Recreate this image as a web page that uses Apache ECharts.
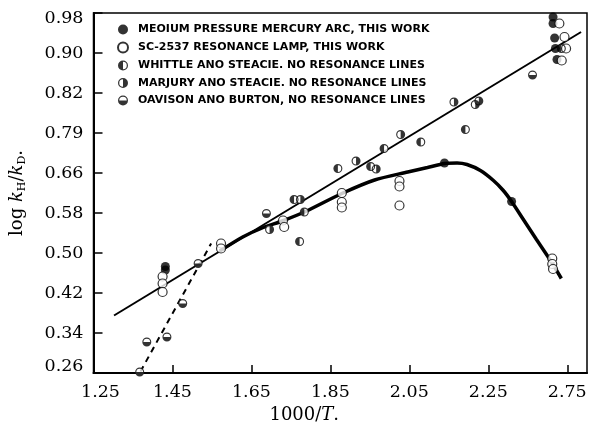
<!DOCTYPE html>
<html>
<head>
<meta charset="utf-8">
<script src="https://cdn.jsdelivr.net/npm/echarts@6/dist/echarts.min.js"></script>
<style>html,body{margin:0;padding:0;background:#fff;}#c{width:590px;height:433px;}</style>
</head>
<body>
<div id="c"></div>
<script>
// ---- tick values and labels (as printed) ----
const xTickValues = [1.25, 1.45, 1.65, 1.85, 2.05, 2.25, 2.45];
const xTickLabels = ['1.25', '1.45', '1.65', '1.85', '2.05', '2.25', '2.75'];
const yTickValues = [0.26, 0.34, 0.42, 0.50, 0.58, 0.66, 0.74, 0.82, 0.90, 0.98];
const yTickLabels = ['0.26', '0.34', '0.42', '0.50', '0.58', '0.66', '0.79', '0.82', '0.90', '0.98'];

// ---- legend names ----
const seriesNames = [
  'MEOIUM PRESSURE MERCURY ARC, THIS WORK',
  'SC-2537 RESONANCE LAMP, THIS WORK',
  'WHITTLE ANO STEACIE. NO RESONANCE LINES',
  'MARJURY ANO STEACIE. NO RESONANCE LINES',
  'OAVISON ANO BURTON, NO RESONANCE LINES'
];

// ---- data ----
const medX = [1.432, 1.432, 2.414, 2.414, 2.418, 2.420, 2.424, 2.139, 2.309];
const medY = [0.473, 0.466, 0.972, 0.959, 0.930, 0.909, 0.887, 0.680, 0.603];

const scX = [1.425, 1.425, 1.425, 1.573, 1.573, 1.730, 1.733, 1.879, 1.879, 1.879, 2.025, 2.025, 2.025, 2.430, 2.443, 2.447, 2.436, 2.412, 2.412, 2.414];
const scY = [0.453, 0.439, 0.422, 0.519, 0.509, 0.565, 0.552, 0.620, 0.602, 0.591, 0.644, 0.633, 0.595, 0.959, 0.932, 0.909, 0.885, 0.489, 0.478, 0.468];

const whX = [1.869, 2.079, 2.192, 1.986, 1.772, 1.758, 1.784, 2.435, 1.952];
const whY = [0.669, 0.722, 0.747, 0.709, 0.523, 0.607, 0.582, 0.909, 0.673];

const maX = [1.915, 2.028, 1.774, 1.966, 2.163, 2.217, 2.226, 1.696];
const maY = [0.684, 0.737, 0.607, 0.668, 0.802, 0.797, 0.804, 0.547];

const daX = [1.367, 1.385, 1.436, 1.476, 1.515, 1.688, 2.362];
const daY = [0.262, 0.322, 0.332, 0.399, 0.479, 0.579, 0.856];

// straight line, dashed line, curve
const lineX = [1.302, 2.485];
const lineY = [0.375, 0.942];
const dashX = [1.369, 1.548];
const dashY = [0.263, 0.519];
const curveX = [1.570, 1.628, 1.680, 1.728, 1.787, 1.879, 1.962, 2.046, 2.096, 2.139, 2.171, 2.196, 2.230, 2.263, 2.288, 2.309, 2.338, 2.372, 2.410, 2.435];
const curveY = [0.504, 0.532, 0.551, 0.564, 0.583, 0.619, 0.646, 0.662, 0.671, 0.679, 0.680, 0.677, 0.665, 0.645, 0.625, 0.603, 0.568, 0.527, 0.482, 0.449];

function zip(xs, ys) { return xs.map((x, i) => [x, ys[i]]); }
function labelFor(values, labels, v) {
  for (let i = 0; i < values.length; i++) if (Math.abs(values[i] - v) < 1e-6) return labels[i];
  return '';
}

const ring = 'M10,0A10,10,0,1,1,10,20A10,10,0,1,1,10,0Z M10,2.5A7.5,7.5,0,1,0,10,17.5A7.5,7.5,0,1,0,10,2.5Z';
const leftHalf = 'path://' + ring + ' M10,2.5A7.5,7.5,0,0,0,10,17.5Z';
const rightHalf = 'path://' + ring + ' M10,2.5A7.5,7.5,0,0,1,10,17.5Z';
const bottomHalf = 'path://' + ring + ' M2.5,10A7.5,7.5,0,0,0,17.5,10Z';

const serif = 'DejaVu Serif';
const MS = 9;

const chart = echarts.init(document.getElementById('c'), null, { renderer: 'canvas' });
chart.setOption({
  backgroundColor: '#fff',
  animation: false,
  grid: { left: 89, right: 3, top: 13, bottom: 60, show: true, borderColor: '#000', borderWidth: 1.5, backgroundColor: 'transparent' },
  legend: {
    data: seriesNames,
    orient: 'vertical',
    left: 112, top: 19,
    itemWidth: 10, itemHeight: 10, itemGap: 6.5,
    selectedMode: false,
    textStyle: { fontFamily: 'DejaVu Sans', fontWeight: 'bold', fontSize: 11, color: '#000', padding: [0, 0, 0, 5] }
  },
  xAxis: {
    type: 'value', min: 1.25, max: 2.5,
    name: '{n|1000/}{i|T}{n|.}',
    nameLocation: 'middle', nameGap: 32,
    nameTextStyle: { padding: [0, 72, 0, 0], rich: {
      n: { fontFamily: serif, fontSize: 18, color: '#000' },
      i: { fontFamily: serif, fontSize: 18, fontStyle: 'italic', color: '#000' } } },
    axisLine: { lineStyle: { color: '#000', width: 2 } },
    axisTick: { inside: true, length: 8, lineStyle: { color: '#000', width: 1.5 }, customValues: xTickValues },
    axisLabel: {
      customValues: xTickValues, margin: 10, color: '#000', fontFamily: serif, fontSize: 17.5,
      formatter: v => { const t = labelFor(xTickValues, xTickLabels, v); return Math.abs(v - 1.25) < 1e-6 ? '{f|' + t + '}' : t; },
      rich: { f: { fontFamily: serif, fontSize: 17.5, color: '#000', padding: [0, 0, 0, 14] } }
    },
    splitLine: { show: false }
  },
  yAxis: {
    type: 'value', min: 0.26, max: 0.98,
    name: '{n|log }{i|k}{s|H}{n|/}{i|k}{s|D}{n|.}',
    nameLocation: 'middle', nameGap: 66,
    nameTextStyle: { rich: {
      n: { fontFamily: serif, fontSize: 18, color: '#000' },
      i: { fontFamily: serif, fontSize: 18, fontStyle: 'italic', color: '#000' },
      s: { fontFamily: serif, fontSize: 11, color: '#000', padding: [10, 0, 0, 0] } } },
    axisLine: { lineStyle: { color: '#000', width: 2 } },
    axisTick: { inside: true, length: 9, lineStyle: { color: '#000', width: 1.5 }, customValues: yTickValues },
    axisLabel: {
      customValues: yTickValues, margin: 10, color: '#000', fontFamily: serif, fontSize: 17.5,
      formatter: v => {
        const t = labelFor(yTickValues, yTickLabels, v);
        if (Math.abs(v - 0.98) < 1e-6) return '{t|' + t + '}';
        if (Math.abs(v - 0.26) < 1e-6) return '{b|' + t + '}';
        return t;
      },
      rich: {
        t: { fontFamily: serif, fontSize: 17.5, color: '#000', padding: [10, 0, 0, 0] },
        b: { fontFamily: serif, fontSize: 17.5, color: '#000', padding: [0, 0, 14, 0] }
      }
    },
    splitLine: { show: false }
  },
  series: [
    { type: 'line', name: 'fit', data: zip(lineX, lineY), symbol: 'none', z: 2,
      lineStyle: { color: '#000', width: 2 } },
    { type: 'line', name: 'dash', data: zip(dashX, dashY), symbol: 'none', z: 2,
      lineStyle: { color: '#000', width: 2, type: [6, 5] } },
    { type: 'line', name: 'curve', data: zip(curveX, curveY), symbol: 'none', smooth: 0.25, z: 2,
      lineStyle: { color: '#000', width: 3.5 } },
    { type: 'scatter', name: 'bg', data: zip(whX, whY).concat(zip(maX, maY), zip(daX, daY)), symbol: 'circle', symbolSize: MS - 1, z: 3,
      itemStyle: { color: '#fff' } },
    { type: 'scatter', name: seriesNames[0], data: zip(medX, medY), symbol: 'circle', symbolSize: MS, z: 4,
      itemStyle: { color: '#000' } },
    { type: 'scatter', name: seriesNames[1], data: zip(scX, scY), symbol: 'circle', symbolSize: MS, z: 4,
      itemStyle: { color: '#fff', borderColor: '#000', borderWidth: 1.2 } },
    { type: 'scatter', name: seriesNames[2], data: zip(whX, whY), symbol: leftHalf, symbolSize: MS, z: 4,
      itemStyle: { color: '#000' } },
    { type: 'scatter', name: seriesNames[3], data: zip(maX, maY), symbol: rightHalf, symbolSize: MS, z: 4,
      itemStyle: { color: '#000' } },
    { type: 'scatter', name: seriesNames[4], data: zip(daX, daY), symbol: bottomHalf, symbolSize: MS, z: 4,
      itemStyle: { color: '#000' } }
  ]
});
</script>
</body>
</html>
